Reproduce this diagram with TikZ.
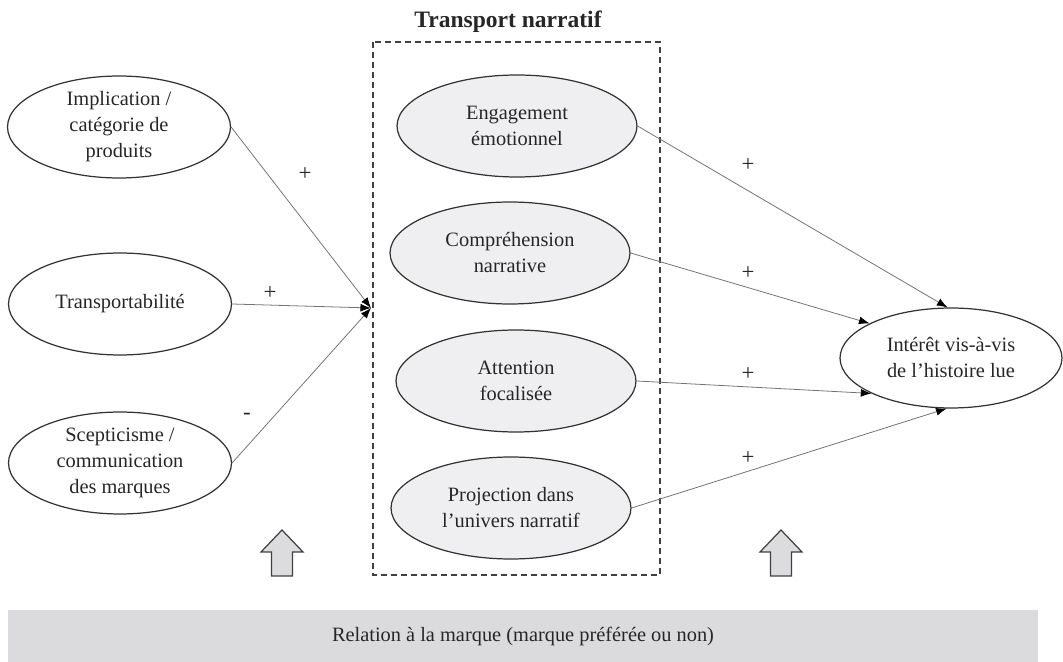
\documentclass[tikz,border=0pt]{standalone}
\usepackage{fontspec}
\setmainfont{Liberation Serif}
\usetikzlibrary{arrows.meta,shapes.geometric}
\definecolor{ovalfill}{HTML}{EFEFF1}
\definecolor{bandfill}{HTML}{DBDBDD}
\definecolor{arrowfill}{HTML}{DCDCDE}
\begin{document}
\begin{tikzpicture}[x=0.02cm,y=-0.02cm,
        every node/.style={font=\fontsize{11.6}{14.8}\selectfont,align=center,text=black!85},
        oval/.style={draw=black!80,line width=0.7pt,ellipse,inner sep=0pt,minimum width=4.46cm,minimum height=2.04cm},
        midoval/.style={oval,fill=ovalfill,minimum width=4.8cm},
        link/.style={draw=black!55,line width=0.45pt},
        tip/.style={-{Latex[length=6pt,width=4.5pt,black]}},
        sign/.style={font=\fontsize{13}{15}\selectfont},
        uparrow/.style={draw=black!75,line width=0.7pt,fill=arrowfill}]
    \useasboundingbox (0,0) rectangle (1063,662);
    \node[font=\fontsize{13.4}{16}\selectfont\bfseries] (N) at (508,22) {Transport narratif};
    \draw[black!75,line width=0.6pt,dash pattern=on 3.4pt off 2.3pt] (373,42) rectangle (660,575);
    % left ovals
    \node[oval] (I) at (119,127) {Implication /\\catégorie de\\produits};
    \node[oval] (T) at (120,304) {Transportabilité};
    \node[oval] (S) at (120,463) {Scepticisme /\\communication\\des marques};
    \coordinate (J) at (371,308);
    \draw[link,tip] (I.east) -- (J);
    \draw[link,tip] (T.east) -- (J);
    \draw[link,tip] (S.east) -- (J);
    \node[sign] (p1) at (305,174) {+};
    \node[sign] (p2) at (270,293) {+};
    \node[sign] (m3) at (247,416) {-};
    % middle ovals
    \node[midoval] (E) at (517,126) {Engagement\\émotionnel};
    \node[midoval] (C) at (510,253) {Compréhension\\narrative};
    \node[midoval] (A) at (516,381) {Attention\\focalisée};
    \node[midoval] (P) at (511,508) {Projection dans\\l’univers narratif};
    % right oval
    \node[oval,minimum width=4.44cm,minimum height=2cm] (R) at (951,358) {Intérêt vis-à-vis\\de l’histoire lue};
    \draw[link,tip] (E.east) -- (R.94);
    \draw[link,tip] (C.east) -- (R.157);
    \draw[link,tip] (A.east) -- (R.204);
    \draw[link,tip] (P.east) -- (R.265);
    \node[sign] (p4) at (748,165) {+};
    \node[sign] (p5) at (748,273) {+};
    \node[sign] (p6) at (748,374) {+};
    \node[sign] (p7) at (748,458) {+};
    % block arrows and band
    \foreach \x in {282,781}
        \draw[uparrow] (\x-21,552) -- (\x,530) -- (\x+21,552) -- (\x+10.5,552) -- (\x+10.5,576) -- (\x-10.5,576) -- (\x-10.5,552) -- cycle;
    \node[fill=bandfill,minimum width=20.6cm,minimum height=1.04cm,inner sep=0pt] (B) at (523,636) {Relation à la marque (marque préférée ou non)};
\end{tikzpicture}
\end{document}
